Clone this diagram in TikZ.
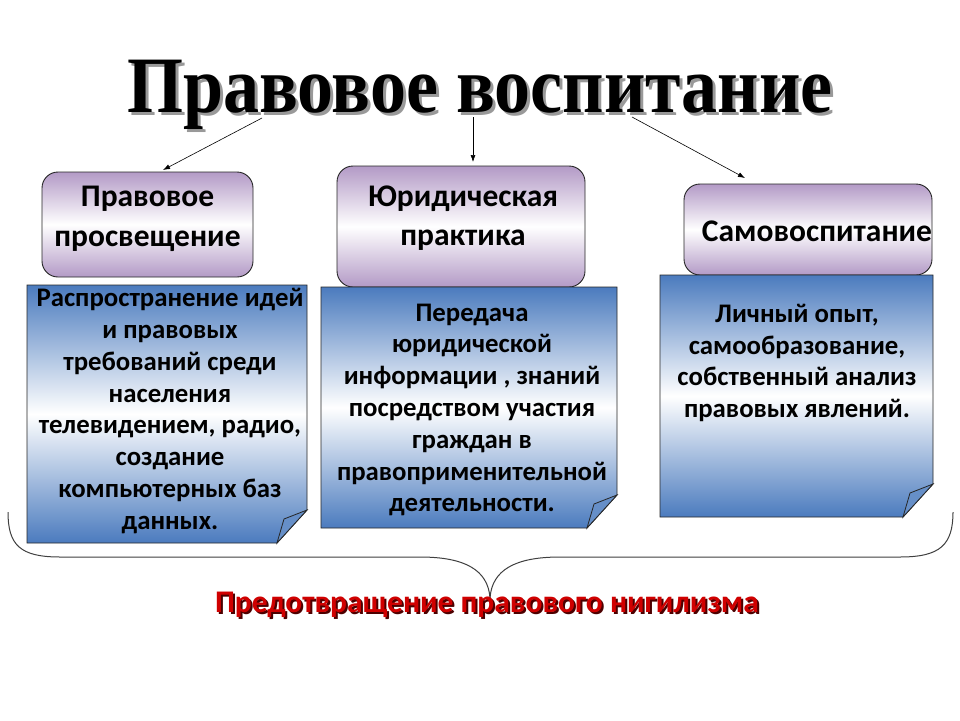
\documentclass[tikz,border=0pt]{standalone}
\usepackage{fontspec}
\setmainfont{Carlito}
\newfontfamily\titlefont{Liberation Serif}
\usetikzlibrary{arrows.meta,calc}
\definecolor{lav}{HTML}{B39AC6}
\definecolor{blu}{HTML}{4B7BBE}
\definecolor{redtxt}{HTML}{D00000}
\newcommand\foldpanel[4]{%
  \path[draw=black!85, line width=0.9pt, top color=blu, bottom color=blu, middle color=white]
    (#1,#2) -- (#3,#2) -- (#3,{#4-33}) -- ({#3-30},#4) -- (#1,#4) -- cycle;
  \path[draw=black!85, line width=0.8pt, fill=blu!85!white]
    (#3,{#4-33}) -- ({#3-30},#4) -- ({#3-23},{#4-24}) -- cycle;}
\begin{document}
\begin{tikzpicture}[x=1pt,y=-1pt,
  headbox/.style={draw=black!85, line width=0.9pt, rounded corners=16pt,
    top color=lav, bottom color=lav, middle color=white, inner sep=0pt},
  headtext/.style={align=center, font=\fontsize{31.5}{39.5}\selectfont\bfseries, inner sep=0pt},
  paneltext/.style={align=center, font=\fontsize{26.8}{31.8}\selectfont\bfseries, inner sep=0pt},
  titlestyle/.style={font=\titlefont\bfseries\fontsize{80}{84}\selectfont, anchor=base, inner sep=0pt},
  bottomstyle/.style={font=\fontsize{31.5}{34}\selectfont\bfseries, anchor=base, inner sep=0pt},
  arr/.style={-{Latex[length=7pt,width=5pt]}, line width=0.6pt}]
\useasboundingbox (0,0) rectangle (960,720);
\fill[white] (0,0) rectangle (960,720);
% title
\node[titlestyle, text=black!40] (titleshadow) at (483,115)
  {\scalebox{0.9}[1]{Правовое воспитание}};
\node[titlestyle] (title) at (480,112)
  {\scalebox{0.9}[1]{Правовое воспитание}};
% head boxes
\node[headbox, minimum width=211pt, minimum height=105pt] (h1) at (147.5,224.5) {};
\node[headbox, minimum width=248pt, minimum height=121pt] (h2) at (461,226.5) {};
\node[headbox, minimum width=248pt, minimum height=91pt] (h3) at (808,229.5) {};
\node[headtext] (h1t) at (147.5,219) {Правовое\\просвещение};
\node[headtext] (h2t) at (463,218) {Юридическая\\практика};
\node[headtext] (h3t) at (817,231) {Самовоспитание};
% panels
\foldpanel{27}{285}{307}{543}
\foldpanel{321}{287}{617}{528}
\foldpanel{660}{275}{933}{517}
\node[paneltext] (p1) at (170,411) {Распространение идей\\и правовых\\требований среди\\населения\\телевидением, радио,\\создание\\компьютерных баз\\данных.};
\node[paneltext] (p2) at (472,410) {Передача\\юридической\\информации , знаний\\посредством участия\\граждан в\\правоприменительной\\деятельности.};
\node[paneltext] (p3) at (797,363) {Личный опыт,\\самообразование,\\собственный анализ\\правовых явлений.};
% arrows
\coordinate (s1) at (262,118);
\coordinate (s2) at (473,117);
\coordinate (s3) at (632,117);
\coordinate (e1) at (163,170);
\coordinate (e2) at (473,162);
\coordinate (e3) at (745,178);
\draw[arr] (s1) -- (e1);
\draw[arr] (s2) -- (e2);
\draw[arr] (s3) -- (e3);
% brace
\coordinate (bl) at (8,512);
\coordinate (br) at (953,512);
\coordinate (tip) at (490,598);
\draw[line width=1pt, black!75] (bl) .. controls (8,545) and (20,557) .. (60,557) -- (420,557)
  .. controls (465,557) and (488,570) .. (tip);
\draw[line width=1pt, black!75] (br) .. controls (953,545) and (940,557) .. (900,557) -- (560,557)
  .. controls (515,557) and (492,570) .. (tip);
% bottom text
\node[bottomstyle, text=black!70!red] (bshadow) at (489,614) {Предотвращение правового нигилизма};
\node[bottomstyle, text=redtxt] (bottom) at (487,612) {Предотвращение правового нигилизма};
\end{tikzpicture}
\end{document}
